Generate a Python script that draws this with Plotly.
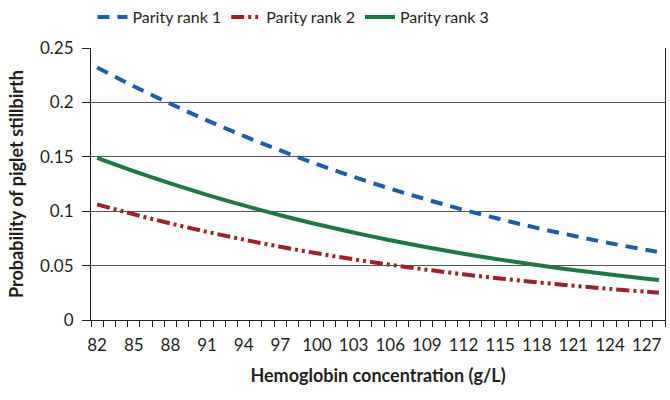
import plotly.graph_objects as go

hemoglobin = [82, 85, 88, 91, 94, 97, 100, 103, 106, 109, 112, 115, 118, 121, 124, 127, 128]
parity1 = [0.2320, 0.2149, 0.1988, 0.1835, 0.1692, 0.1558, 0.1433, 0.1316, 0.1207,
           0.1107, 0.1013, 0.0927, 0.0847, 0.0774, 0.0706, 0.0644, 0.0625]
parity2 = [0.1063, 0.0972, 0.0888, 0.0810, 0.0739, 0.0673, 0.0613, 0.0558, 0.0508,
           0.0462, 0.0420, 0.0382, 0.0347, 0.0315, 0.0286, 0.0259, 0.0251]
parity3 = [0.1490, 0.1368, 0.1255, 0.1150, 0.1053, 0.0963, 0.0880, 0.0804, 0.0733,
           0.0668, 0.0609, 0.0555, 0.0505, 0.0459, 0.0418, 0.0380, 0.0368]
series_names = ["Parity rank 1", "Parity rank 2", "Parity rank 3"]
x_tick_labels = [str(v) for v in range(82, 128, 3)]
y_tick_vals = [0, 0.05, 0.1, 0.15, 0.2, 0.25]
y_tick_labels = ["0", "0.05", "0.1", "0.15", "0.2", "0.25"]

FONT = "Lato"
TXT = "#231f20"

fig = go.Figure()
fig.add_trace(go.Scatter(x=hemoglobin, y=parity1, name=series_names[0], mode="lines",
                         line=dict(color="#1b5ea9", width=4, dash="12px,8px", shape="spline")))
fig.add_trace(go.Scatter(x=hemoglobin, y=parity2, name=series_names[1], mode="lines",
                         line=dict(color="#9e2128", width=4, dash="13px,4px,3px,4px,3px,4px", shape="spline")))
fig.add_trace(go.Scatter(x=hemoglobin, y=parity3, name=series_names[2], mode="lines",
                         line=dict(color="#1b7a43", width=4, shape="spline")))

fig.update_layout(
    width=670, height=400,
    margin=dict(l=91, r=5, t=48, b=80, autoexpand=False),
    paper_bgcolor="white", plot_bgcolor="white",
    font=dict(family=FONT, size=17, color=TXT),
    showlegend=True,
    legend=dict(orientation="h", xref="container", yref="container",
                x=0.438, xanchor="center", y=1.0, yanchor="top",
                font=dict(family=FONT, size=16, color=TXT),
                tracegroupgap=0, bgcolor="rgba(0,0,0,0)", borderwidth=0),
    xaxis=dict(
        range=[81.5, 128.5], automargin=False,
        tickmode="array", tickvals=[int(t) for t in x_tick_labels], ticktext=x_tick_labels,
        ticks="", showgrid=False, zeroline=False, ticklabelstandoff=10,
        showline=True, linecolor="#231f20", linewidth=1,
        minor=dict(tick0=81.5, dtick=1, ticks="outside", ticklen=6,
                   tickcolor="#231f20", tickwidth=1, showgrid=False),
        title=dict(text="<b>Hemoglobin concentration (g/L)</b>", standoff=14,
                   font=dict(family=FONT, size=18, color=TXT)),
        tickfont=dict(family=FONT, size=17, color=TXT),
    ),
    yaxis=dict(
        range=[0, 0.25], automargin=False,
        tickmode="array", tickvals=y_tick_vals, ticktext=y_tick_labels,
        ticks="outside", ticklen=8, tickcolor="#231f20", ticklabelstandoff=5,
        showgrid=True, gridcolor="#555555", gridwidth=1,
        zeroline=False,
        showline=True, linecolor="#231f20", linewidth=1, mirror=True,
        title=dict(text="<b>Probability of piglet stillbirth</b>", standoff=11,
                   font=dict(family=FONT, size=18, color=TXT)),
        tickfont=dict(family=FONT, size=17, color=TXT),
    ),
)

fig.write_html("out.html", config={"displayModeBar": False},
               post_script="document.body.style.margin='0';")
